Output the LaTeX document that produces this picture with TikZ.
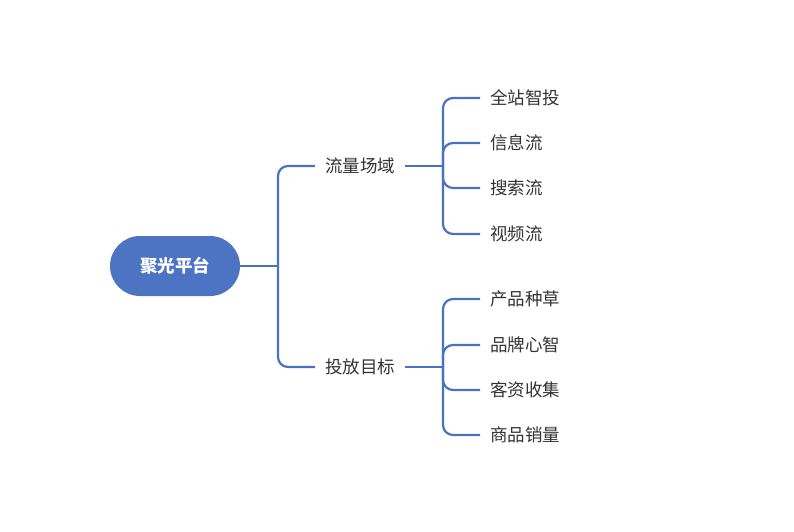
\documentclass[tikz,border=0pt]{standalone}
\usepackage{fontspec}
\setmainfont{Noto Sans CJK SC}
\definecolor{mainblue}{HTML}{4D73C3}
\definecolor{lineblue}{HTML}{4A72C4}
\definecolor{txt}{HTML}{333333}
\begin{document}
\begin{tikzpicture}[x=1pt,y=-1pt,
  rootbox/.style={rectangle, rounded corners=30pt, fill=mainblue, minimum width=130pt, minimum height=60pt, text=white, font=\fontsize{17.5}{19}\selectfont\bfseries},
  branchbox/.style={inner xsep=10pt, inner ysep=3pt, text=txt, font=\fontsize{17.5}{19}\selectfont},
  leafbox/.style={anchor=west, inner xsep=10pt, inner ysep=3pt, text=txt, font=\fontsize{17.5}{19}\selectfont},
  conn/.style={draw=lineblue, line width=2.2pt, rounded corners=10pt}]
\useasboundingbox (0,0) rectangle (794,531);
\node[rootbox] (root) at (175,266) {聚光平台};
\node[branchbox] (b1) at (360,166) {流量场域};
\node[branchbox] (b2) at (360,367) {投放目标};
\node[leafbox] (l1) at (480,98) {全站智投};
\node[leafbox] (l2) at (480,143) {信息流};
\node[leafbox] (l3) at (480,188) {搜索流};
\node[leafbox] (l4) at (480,234) {视频流};
\node[leafbox] (l5) at (480,299) {产品种草};
\node[leafbox] (l6) at (480,345) {品牌心智};
\node[leafbox] (l7) at (480,390) {客资收集};
\node[leafbox] (l8) at (480,435) {商品销量};
\coordinate (j0) at (278,266);
\coordinate (j1) at (443,166);
\coordinate (j2) at (443,367);
\draw[conn] (root.east) -- (j0);
\draw[conn] (b1.east) -- (j1);
\draw[conn] (b2.east) -- (j2);
\foreach \b in {b1,b2}
  \draw[conn] (j0) |- (\b.west);
\foreach \l in {l1,l2,l3,l4}
  \draw[conn] (j1) |- (\l.west);
\foreach \l in {l5,l6,l7,l8}
  \draw[conn] (j2) |- (\l.west);
\end{tikzpicture}
\end{document}
